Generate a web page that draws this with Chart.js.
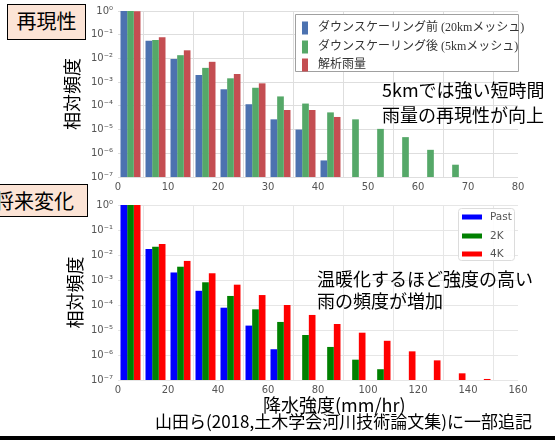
<!DOCTYPE html>
<html>
<head>
<meta charset="utf-8">
<script src="https://cdn.jsdelivr.net/npm/chart.js@4.4.1/dist/chart.umd.min.js"></script>
<style>
  html, body { margin: 0; padding: 0; background: #fff; }
  body { width: 555px; height: 440px; position: relative; overflow: hidden;
         font-family: 'Noto Sans CJK JP', sans-serif; }
  canvas { position: absolute; left: 0; }
  #c1 { top: 0; }
  #c2 { top: 190px; }
  .tag { position: absolute; background: #fce4d6; border: 1.5px solid #000; box-sizing: border-box;
         font-size: 20px; line-height: 32px; text-align: center; color: #000; white-space: nowrap; }
  .note { position: absolute; color: #000; white-space: nowrap; }
  #rule { position: absolute; left: 0; top: 436px; width: 555px; height: 4px; background: #000; }
</style>
</head>
<body>
<canvas id="c1" width="555" height="200"></canvas>
<canvas id="c2" width="555" height="230"></canvas>

<div class="tag" style="left:7px; top:4px; width:79px; height:36px;">再現性</div>
<div class="tag" style="left:-20px; top:184px; width:108px; height:33px;">将来変化</div>

<div class="note" style="left:382px; top:77px; font-size:18px; line-height:25px;">5kmでは強い短時間<br>雨量の再現性が向上</div>
<div class="note" style="left:317px; top:267px; font-size:18px; line-height:22px;">温暖化するほど強度の高い<br>雨の頻度が増加</div>
<div class="note" style="left:263px; top:393px; font-size:18px; line-height:22px;">降水強度(mm/hr)</div>
<div class="note" style="left:155px; top:411px; font-size:17px; line-height:20px;">山田ら(2018,土木学会河川技術論文集)に一部追記</div>
<div id="rule"></div>

<script>
// ---- 再現性: relative frequency per 5 mm/hr bin ----
const topBins = [2.5, 7.5, 12.5, 17.5, 22.5, 27.5, 32.5, 37.5, 42.5, 47.5, 52.5, 57.5, 62.5, 67.5];
const before20km = [1.0, 0.055, 0.0095, 0.0020, 0.00050, 0.000117, 2.7e-5, 1.0e-5, 5.0e-7, null, null, null, null, null];
const after5km   = [1.0, 0.060, 0.0137, 0.0040, 0.00145, 0.00058, 2.5e-4, 1.25e-4, 5.3e-5, 2.7e-5, 1.07e-5, 4.8e-6, 1.4e-6, 3.3e-7];
const radarRain  = [0.97, 0.079, 0.022, 0.0072, 0.0022, 0.00089, 6.7e-5, 6.7e-5, 3.4e-5, null, null, null, null, null];
const topLabels  = ['ダウンスケーリング前 (20kmメッシュ)', 'ダウンスケーリング後 (5kmメッシュ)', '解析雨量'];
const topXTicks  = [0, 10, 20, 30, 40, 50, 60, 70, 80];

// ---- 将来変化: relative frequency per 10 mm/hr bin ----
const bottomBins = [5, 15, 25, 35, 45, 55, 65, 75, 85, 95, 105, 115, 125, 135, 145];
const past   = [1.0, 0.0174, 0.0020, 3.7e-4, 7.8e-5, 1.5e-5, 1.7e-6, null, null, null, null, null, null, null, null];
const plus2K = [1.0, 0.0214, 0.0034, 8.1e-4, 2.3e-4, 6.7e-5, 2.1e-5, 6.3e-6, 2.1e-6, 6.5e-7, 2.7e-7, null, null, null, null];
const plus4K = [1.0, 0.0275, 0.0058, 1.86e-3, 6.5e-4, 2.5e-4, 1.0e-4, 4.0e-5, 1.74e-5, 7.8e-6, 3.7e-6, 1.4e-6, 6.1e-7, 1.85e-7, 1.1e-7];
const bottomLabels = ['Past', '2K', '4K'];
const bottomXTicks = [0, 20, 40, 60, 80, 100, 120, 140, 160];

// shared log axis ticks
const yTickValues = [1, 1e-1, 1e-2, 1e-3, 1e-4, 1e-5, 1e-6, 1e-7];
const yTickLabels = ['10⁰', '10⁻¹', '10⁻²', '10⁻³', '10⁻⁴', '10⁻⁵', '10⁻⁶', '10⁻⁷'];

const pairs = (xs, ys) => xs.map((x, i) => ({ x: x, y: ys[i] }));

// legend drawn as a framed box inside the plot
const boxLegend = {
  id: 'boxLegend',
  afterDraw(chart, args, o) {
    const ctx = chart.ctx;
    ctx.save();
    ctx.beginPath();
    if (ctx.roundRect) ctx.roundRect(o.x + 0.5, o.y + 0.5, o.w, o.h, o.radius);
    else ctx.rect(o.x + 0.5, o.y + 0.5, o.w, o.h);
    ctx.fillStyle = o.fill;
    ctx.fill();
    ctx.lineWidth = 1;
    ctx.strokeStyle = o.border;
    ctx.stroke();
    ctx.font = o.font;
    ctx.textBaseline = 'middle';
    ctx.textAlign = 'left';
    chart.data.datasets.forEach((ds, i) => {
      const y = o.rowY[i];
      ctx.fillStyle = ds.backgroundColor;
      ctx.fillRect(o.swatchX, y - o.swatchH / 2, o.swatchW, o.swatchH);
      ctx.fillStyle = o.color;
      ctx.fillText(ds.label, o.textX, y);
    });
    ctx.restore();
  }
};

function makeChart(id, cfg) {
  return new Chart(document.getElementById(id), {
    type: 'bar',
    data: {
      datasets: cfg.series.map((s, i) => ({
        label: cfg.labels[i],
        data: pairs(cfg.bins, s),
        backgroundColor: cfg.colors[i],
        borderWidth: 0,
        categoryPercentage: 0.8,
        barPercentage: 1.0
      }))
    },
    options: {
      responsive: false,
      animation: false,
      layout: { padding: { left: 0, right: 37, top: cfg.padTop, bottom: 0 } },
      plugins: {
        legend: { display: false },
        tooltip: { enabled: false },
        boxLegend: cfg.legend
      },
      scales: {
        x: {
          type: 'linear',
          offset: false,
          min: cfg.xTicks[0],
          max: cfg.xTicks[cfg.xTicks.length - 1],
          afterBuildTicks: (s) => { s.ticks = cfg.xTicks.map(v => ({ value: v })); },
          afterFit: (s) => { s.height = cfg.xAxisH; },
          grid: { color: cfg.grid, drawTicks: false },
          border: { display: false },
          ticks: { color: '#555', padding: 4, maxRotation: 0, autoSkip: false,
                   font: { family: 'DejaVu Sans', size: 10 } }
        },
        y: {
          type: 'logarithmic',
          min: 1e-7,
          max: 1,
          afterBuildTicks: (s) => { s.ticks = yTickValues.map(v => ({ value: v })); },
          afterFit: (s) => { s.width = 118; },
          grid: { color: cfg.grid, drawTicks: false },
          border: { display: false },
          ticks: { color: '#555', padding: 5, autoSkip: false,
                   font: { family: 'DejaVu Sans', size: 10 },
                   callback: (v, i) => yTickLabels[i] },
          title: { display: true, text: '相対頻度', color: '#000',
                   font: { family: 'Noto Sans CJK JP', size: 18 },
                   padding: { top: cfg.yTitlePad, bottom: 0 } }
        }
      }
    },
    plugins: [boxLegend]
  });
}

makeChart('c1', {
  bins: topBins,
  series: [before20km, after5km, radarRain],
  labels: topLabels,
  colors: ['#4C72B0', '#55A868', '#C44E52'],
  xTicks: topXTicks,
  grid: '#dedede',
  padTop: 2,
  xAxisH: 23,
  yTitlePad: 61,
  legend: {
    x: 295, y: 14, w: 223, h: 57, radius: 0,
    fill: '#ffffff', border: '#a0a0a0',
    rowY: [28, 47, 65], swatchX: 302, swatchW: 6, swatchH: 13,
    textX: 318, color: '#333',
    font: "12px 'Liberation Serif', 'Noto Sans CJK JP'"
  }
});

makeChart('c2', {
  bins: bottomBins,
  series: [past, plus2K, plus4K],
  labels: bottomLabels,
  colors: ['#0000FF', '#008000', '#FF0000'],
  xTicks: bottomXTicks,
  grid: '#e6e6e6',
  padTop: 15,
  xAxisH: 40,
  yTitlePad: 64,
  legend: {
    x: 458, y: 18, w: 56, h: 52, radius: 3,
    fill: 'rgba(255,255,255,0.85)', border: '#dcdcdc',
    rowY: [27, 46, 64], swatchX: 462, swatchW: 20, swatchH: 5,
    textX: 490, color: '#555',
    font: "10.5px 'DejaVu Sans'"
  }
});
</script>
</body>
</html>
